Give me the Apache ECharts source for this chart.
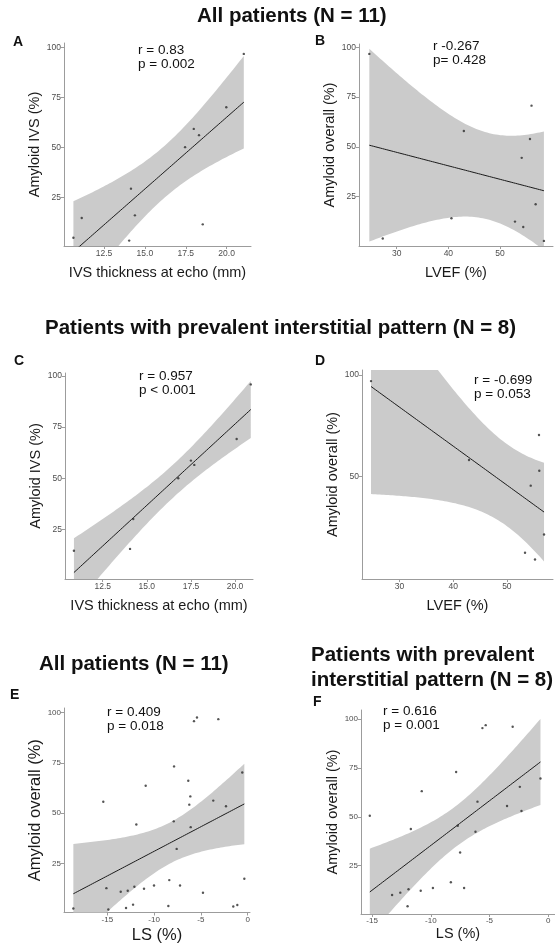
<!DOCTYPE html>
<html>
<head>
<meta charset="utf-8">
<script src="https://cdn.jsdelivr.net/npm/echarts@6/dist/echarts.min.js"></script>
<style>
  html, body { margin: 0; padding: 0; background: #ffffff; }
  #chart { width: 555px; height: 945px; }
</style>
</head>
<body>
<div id="chart"></div>
<script>
// ---- Data: all patients (N = 11) ----
const ivsAll      = [10.63, 11.14, 14.15, 14.39, 14.04, 17.46, 17.99, 18.31, 18.54, 19.98, 21.05];
const amyIvsAll   = [5.0, 14.9, 29.5, 16.2, 3.6, 50.2, 59.3, 56.2, 11.7, 70.1, 96.7];
const lvefAll     = [24.7, 27.3, 40.6, 43.0, 56.1, 55.8, 54.2, 56.9, 52.9, 54.5, 58.5];
const amyOvAll    = [96.7, 4.0, 14.2, 58.0, 70.7, 54.0, 44.5, 21.2, 12.5, 9.8, 2.8];

// ---- Data: prevalent interstitial pattern (N = 8) ----
const ivsPrev     = [10.87, 14.05, 14.23, 16.78, 17.5, 17.69, 20.09, 20.89];
const amyIvsPrev  = [14.5, 15.4, 30.0, 50.0, 58.6, 56.5, 69.2, 95.9];
const lvefPrev    = [24.7, 42.95, 55.98, 56.04, 54.44, 56.92, 53.38, 55.24];
const amyOvPrev   = [97.0, 58.2, 70.5, 52.9, 45.6, 21.6, 12.6, 9.3];

// ---- Data: longitudinal strain by segment ----
const lsAll  = [-5.74, -5.42, -3.14, -7.87, -6.35, -0.58, -10.9, -6.13, -3.68, -6.24, -2.32,
                -15.43, -11.9, -7.9, -6.09, -7.59, -0.36, -8.38, -15.1, -13.57, -12.82, -12.11,
                -11.08, -10.01, -7.23, -4.78, -18.63, -14.89, -13.0, -12.25, -8.48, -1.54, -1.11];
const amyLsAll = [95.8, 97.6, 96.8, 73.3, 66.2, 70.3, 63.7, 58.4, 56.3, 54.3, 53.5,
                  55.7, 44.4, 46.0, 43.1, 32.3, 17.5, 16.8, 12.8, 11.0, 11.5, 13.5,
                  12.5, 14.1, 14.1, 10.5, 2.7, 2.2, 2.9, 4.6, 3.9, 3.7, 4.4];
const lsPrev = [-5.6, -5.32, -3.02, -7.84, -0.65, -10.77, -2.41, -6.02, -3.5, -2.27, -15.2,
                -11.7, -7.7, -6.19, -7.5, -13.3, -12.6, -11.9, -10.86, -9.82, -8.29, -7.16, -11.98];
const amyLsPrev = [95.5, 97.0, 96.2, 73.0, 69.7, 63.2, 65.4, 57.8, 55.6, 53.0, 50.6,
                   43.8, 45.5, 42.4, 31.8, 10.0, 11.2, 12.9, 12.2, 13.6, 16.5, 13.6, 4.2];

// ---- Tick values ----
const pctTicks  = [25, 50, 75, 100];
const pctTicksD = [50, 100];
const ivsTicks  = [12.5, 15, 17.5, 20];
const lvefTicks = [30, 40, 50];
const lsTicks   = [-15, -10, -5, 0];

// Two-sided 95% Student t quantile (Cornish-Fisher expansion)
function t975(df) {
  const z = 1.959964, z3 = z * z * z, z5 = z3 * z * z, z7 = z5 * z * z;
  return z + (z3 + z) / (4 * df)
           + (5 * z5 + 16 * z3 + 3 * z) / (96 * df * df)
           + (3 * z7 + 19 * z5 + 17 * z3 - 15 * z) / (384 * df * df * df);
}

// Ordinary least squares fit with 95% confidence band for the mean
function lmBand(xs, ys, steps) {
  const n = xs.length;
  const mx = xs.reduce((s, v) => s + v, 0) / n;
  const my = ys.reduce((s, v) => s + v, 0) / n;
  let sxx = 0, sxy = 0;
  for (let i = 0; i < n; i++) { sxx += (xs[i] - mx) ** 2; sxy += (xs[i] - mx) * (ys[i] - my); }
  const b = sxy / sxx, a = my - b * mx;
  let sse = 0;
  for (let i = 0; i < n; i++) sse += (ys[i] - a - b * xs[i]) ** 2;
  const s = Math.sqrt(sse / (n - 2)), t = t975(n - 2);
  const x0 = Math.min(...xs), x1 = Math.max(...xs);
  const out = [];
  for (let k = 0; k <= steps; k++) {
    const x = x0 + (x1 - x0) * k / steps;
    const fit = a + b * x;
    const se = s * Math.sqrt(1 / n + (x - mx) ** 2 / sxx);
    out.push([x, fit, fit - t * se, fit + t * se]);
  }
  return out;
}

const FONT = "'Liberation Sans', Arial, Helvetica, sans-serif";
const AXIS_COLOR = '#9c9c9c';
const BAND_COLOR = '#cbcbcb';

// Panel layout (pixels) and axis ranges; yGap is measured to the near edge of the rotated title
const panels = [
  { xs: ivsAll, ys: amyIvsAll, grid: { left: 64, top: 43, width: 187, height: 203 },
    xr: [10.055, 21.49], yr: [0.91, 102.14], xt: ivsTicks, yt: pctTicks, xdec: 1,
    xName: 'IVS thickness at echo (mm)', yName: 'Amyloid IVS (%)', nameSize: 14.5, xGap: 27, yGap: 19, tickSize: 8.5 },
  { xs: lvefAll, ys: amyOvAll, grid: { left: 359, top: 44, width: 194, height: 202 },
    xr: [22.70, 60.26], yr: [0.25, 101.66], xt: lvefTicks, yt: pctTicks, xdec: 0,
    xName: 'LVEF (%)', yName: 'Amyloid overall (%)', nameSize: 14.5, xGap: 27, yGap: 16.5, tickSize: 8.5 },
  { xs: ivsPrev, ys: amyIvsPrev, grid: { left: 65, top: 373, width: 188, height: 206 },
    xr: [10.364, 21.016], yr: [0.68, 101.47], xt: ivsTicks, yt: pctTicks, xdec: 1,
    xName: 'IVS thickness at echo (mm)', yName: 'Amyloid IVS (%)', nameSize: 14.5, xGap: 27, yGap: 16.5, tickSize: 8.5 },
  { xs: lvefPrev, ys: amyOvPrev, grid: { left: 362, top: 370, width: 191, height: 209 },
    xr: [23.02, 58.59], yr: [-0.3, 102.46], xt: lvefTicks, yt: pctTicksD, xdec: 0,
    xName: 'LVEF (%)', yName: 'Amyloid overall (%)', nameSize: 14.5, xGap: 27, yGap: 17, tickSize: 8.5 },
  { xs: lsAll, ys: amyLsAll, grid: { left: 64, top: 708, width: 186, height: 205 },
    xr: [-19.63, 0.246], yr: [0.69, 102.33], xt: lsTicks, yt: pctTicks, xdec: 0,
    xName: 'LS (%)', yName: 'Amyloid overall (%)', nameSize: 16.5, xGap: 23, yGap: 13.5, tickSize: 8 },
  { xs: lsPrev, ys: amyLsPrev, grid: { left: 361, top: 710, width: 197, height: 204 },
    xr: [-15.95, 0.588], yr: [0.26, 104.76], xt: lsTicks, yt: pctTicks, xdec: 0,
    xName: 'LS (%)', yName: 'Amyloid overall (%)', nameSize: 14.5, xGap: 20, yGap: 15, tickSize: 8 }
];

// Headings, panel letters and correlation annotations
const texts = [
  { t: 'All patients (N = 11)', x: 197, y: 16, f: 'bold 20.5px' },
  { t: 'Patients with prevalent interstitial pattern (N = 8)', x: 45, y: 328, f: 'bold 20.5px' },
  { t: 'All patients (N = 11)', x: 39, y: 664, f: 'bold 20.5px' },
  { t: 'Patients with prevalent', x: 311, y: 655, f: 'bold 20.5px' },
  { t: 'interstitial pattern (N = 8)', x: 311, y: 680, f: 'bold 20.5px' },
  { t: 'A', x: 13, y: 42, f: 'bold 14px' },
  { t: 'B', x: 315, y: 41, f: 'bold 14px' },
  { t: 'C', x: 14, y: 361, f: 'bold 14px' },
  { t: 'D', x: 315, y: 361, f: 'bold 14px' },
  { t: 'E', x: 10, y: 695, f: 'bold 14px' },
  { t: 'F', x: 313, y: 702, f: 'bold 14px' },
  { t: 'r = 0.83', x: 138, y: 50, f: '13.5px' },
  { t: 'p = 0.002', x: 138, y: 64, f: '13.5px' },
  { t: 'r -0.267', x: 433, y: 46, f: '13.5px' },
  { t: 'p= 0.428', x: 433, y: 60, f: '13.5px' },
  { t: 'r = 0.957', x: 139, y: 376, f: '13.5px' },
  { t: 'p < 0.001', x: 139, y: 390, f: '13.5px' },
  { t: 'r = -0.699', x: 474, y: 380, f: '13.5px' },
  { t: 'p = 0.053', x: 474, y: 394, f: '13.5px' },
  { t: 'r = 0.409', x: 107, y: 712, f: '13.5px' },
  { t: 'p = 0.018', x: 107, y: 726, f: '13.5px' },
  { t: 'r = 0.616', x: 383, y: 711, f: '13.5px' },
  { t: 'p = 0.001', x: 383, y: 725, f: '13.5px' }
];

const grids = [], xAxes = [], yAxes = [], series = [];

panels.forEach((p, i) => {
  grids.push(Object.assign({ containLabel: false }, p.grid));
  const band = lmBand(p.xs, p.ys, 80);
  const axisCommon = {
    gridIndex: i, type: 'value',
    nameLocation: 'middle',
    splitLine: { show: false },
    axisLine: { show: true, onZero: false, lineStyle: { color: AXIS_COLOR, width: 1 } }
  };
  xAxes.push(Object.assign({}, axisCommon, {
    min: p.xr[0], max: p.xr[1],
    name: p.xName, nameGap: p.xGap,
    nameTextStyle: { fontFamily: FONT, fontSize: p.nameSize, color: '#1a1a1a', verticalAlign: 'middle', align: 'center' },
    axisTick: { show: true, length: 3, customValues: p.xt, lineStyle: { color: AXIS_COLOR } },
    axisLabel: { customValues: p.xt, fontFamily: FONT, fontSize: p.tickSize, color: '#4d4d4d', margin: 3,
                 formatter: (v) => v.toFixed(p.xdec) }
  }));
  yAxes.push(Object.assign({}, axisCommon, {
    min: p.yr[0], max: p.yr[1],
    name: p.yName, nameGap: p.yGap,
    nameTextStyle: { fontFamily: FONT, fontSize: p.nameSize, color: '#1a1a1a' },
    axisTick: { show: true, length: 3, customValues: p.yt, lineStyle: { color: AXIS_COLOR } },
    axisLabel: { customValues: p.yt, fontFamily: FONT, fontSize: p.tickSize, color: '#4d4d4d', margin: 3,
                 formatter: (v) => String(v) }
  }));

  // confidence band
  series.push({
    type: 'custom', xAxisIndex: i, yAxisIndex: i, clip: true, silent: true, z: 1,
    data: [[band[0][0], band[0][1]]],
    renderItem: function (params, api) {
      const upper = band.map(b => api.coord([b[0], b[3]]));
      const lower = band.map(b => api.coord([b[0], b[2]])).reverse();
      return { type: 'polygon', shape: { points: upper.concat(lower) }, style: { fill: BAND_COLOR } };
    }
  });
  // fitted line
  series.push({
    type: 'line', xAxisIndex: i, yAxisIndex: i, clip: true, silent: true, z: 2,
    showSymbol: false, symbol: 'none',
    lineStyle: { color: '#1a1a1a', width: 1 },
    data: band.map(b => [b[0], b[1]])
  });
  // observations
  series.push({
    type: 'scatter', xAxisIndex: i, yAxisIndex: i, silent: true, z: 3,
    symbolSize: 2.4, itemStyle: { color: '#2a2a2a' },
    data: p.xs.map((x, k) => [x, p.ys[k]])
  });
});

const chart = echarts.init(document.getElementById('chart'), null, { renderer: 'canvas' });
chart.setOption({
  animation: false,
  backgroundColor: '#ffffff',
  grid: grids,
  xAxis: xAxes,
  yAxis: yAxes,
  series: series,
  graphic: texts.map(o => ({
    type: 'text', x: o.x, y: o.y, silent: true,
    style: { text: o.t, font: o.f + ' ' + FONT, fill: '#111111', align: 'left', verticalAlign: 'middle' }
  }))
});
</script>
</body>
</html>
